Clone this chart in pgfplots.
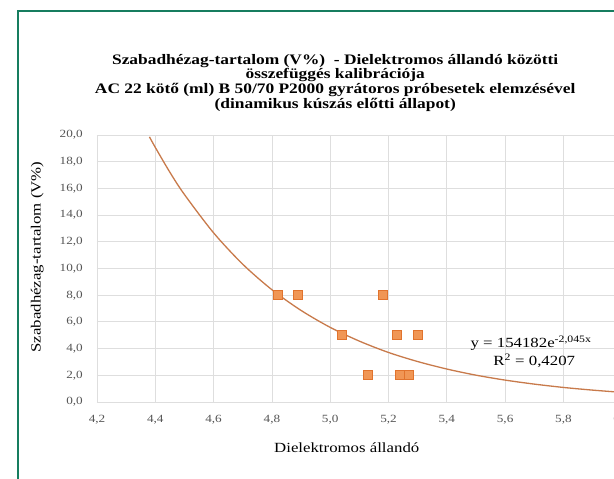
\documentclass[border=0pt]{standalone}
\usepackage{pgfplots}
\pgfplotsset{compat=1.18}
\usepackage{fontspec}
\setmainfont[FakeStretch=1.2]{Liberation Serif}

\definecolor{frame}{RGB}{22,125,95}
\definecolor{mkfill}{RGB}{240,150,85}
\definecolor{mkdraw}{RGB}{225,115,45}
\definecolor{trend}{RGB}{200,122,75}
\definecolor{gridc}{RGB}{222,222,222}
\definecolor{tickc}{RGB}{85,85,85}

\begin{document}
\begin{tikzpicture}
\useasboundingbox (0,0) rectangle (614pt,479pt);
\clip (0,0) rectangle (614pt,479pt);
\fill[white] (0,0) rectangle (614pt,479pt);
\draw[frame, line width=2.5pt] (18pt,-10pt) rectangle (700pt,468pt);

\begin{axis}[
    at={(97pt,77pt)}, anchor=south west,
    scale only axis,
    width=524.7pt, height=267pt,
    xmin=4.2, xmax=6.0,
    ymin=0, ymax=20,
    xtick={4.2,4.4,...,6.01},
    ytick={0,2,...,20},
    grid=major,
    grid style={gridc, line width=0.8pt},
    axis line style={draw=none},
    major tick length=0pt,
    tick label style={font=\fontsize{11}{13}\selectfont, text=tickc},
    /pgf/number format/.cd, fixed, fixed zerofill, precision=1, use comma, assume math mode=true,
    /pgfplots/.cd,
    xticklabel style={anchor=center, yshift=-18pt},
    yticklabel style={anchor=east, inner sep=0pt, xshift=-14pt},
    xlabel={Dielektromos állandó},
    xlabel style={font=\fontsize{14}{16}\selectfont, at={(axis description cs:0.476,-0.172)}, anchor=center},
    ylabel={Szabadhézag-tartalom (V\%)},
    ylabel style={font=\fontsize{14}{16}\selectfont, at={(axis description cs:-0.114,0.543)}, anchor=center},
    title={Szabadhézag-tartalom (V\%)\ \ - Dielektromos állandó közötti\\összefüggés kalibrációja\\AC 22 kötő (ml) B 50/70 P2000 gyrátoros próbesetek elemzésével\\(dinamikus kúszás előtti állapot)},
    title style={font=\bfseries\fontsize{14.5}{14.7}\selectfont, align=center, at={(0.454,1)}, anchor=south, yshift=14pt},
    clip=false,
]
% trend line (exponential fit)
\addplot[trend, line width=1.3pt, smooth, no markers] coordinates {
  (4.38,19.86) (4.40,19.07) (4.45,17.21) (4.50,15.54) (4.60,12.67)
  (4.70,10.32) (4.80,8.41) (4.90,6.86) (5.00,5.59) (5.10,4.56)
  (5.20,3.71) (5.30,3.03) (5.40,2.47) (5.50,2.01) (5.60,1.64)
  (5.70,1.34) (5.80,1.09) (5.90,0.89) (6.00,0.72)
};
% measured points
\addplot[only marks, mark=square*, mark size=4.6pt,
  mark options={fill=mkfill, draw=mkdraw, line width=1pt}] coordinates {
  (4.82,8) (4.89,8) (5.18,8)
  (5.04,5) (5.23,5) (5.30,5)
  (5.13,2) (5.24,2) (5.27,2)
};
\node[font=\fontsize{14}{16}\selectfont] at (axis cs:5.689,4.42) {y = 154182e\textsuperscript{-2,045x}};
\node[font=\fontsize{14}{16}\selectfont] at (axis cs:5.70,3.10) {R\textsuperscript{2} = 0,4207};
\end{axis}
\end{tikzpicture}
\end{document}
